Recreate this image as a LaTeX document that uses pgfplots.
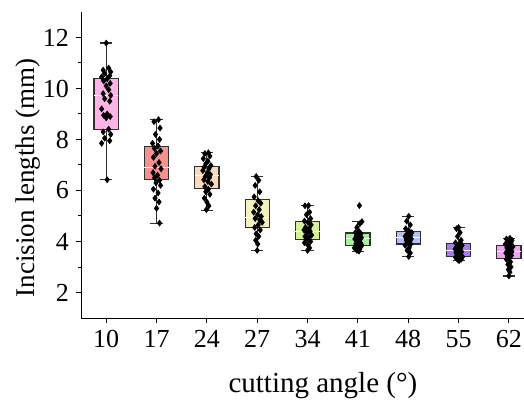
\documentclass[border=0pt]{standalone}
\usepackage{fontspec}
\setmainfont{Liberation Serif}
\usepackage{pgfplots}
\pgfplotsset{compat=1.18}
\usepgfplotslibrary{statistics}
\definecolor{c0}{HTML}{FFB3E6}
\definecolor{c1}{HTML}{F5918F}
\definecolor{c2}{HTML}{FAD9BC}
\definecolor{c3}{HTML}{F5F0C0}
\definecolor{c4}{HTML}{D4F09A}
\definecolor{c5}{HTML}{A6F0A0}
\definecolor{c6}{HTML}{B5C0F5}
\definecolor{c7}{HTML}{A77BF0}
\definecolor{c8}{HTML}{F0A6F5}
\definecolor{edge}{HTML}{303030}
\begin{document}
\begin{tikzpicture}
\begin{axis}[
  scale only axis, width=221.5pt, height=153pt,
  xmin=-0.5, xmax=8.3, ymin=1, ymax=13,
  axis x line*=bottom, axis y line*=left,
  axis line style={-, line width=0.5pt},
  xtick={0,...,8}, xticklabels={10,17,24,27,34,41,48,55,62},
  ytick={2,4,...,12}, minor y tick num=1,
  tick align=outside, major tick length=2.5pt, minor tick length=1.5pt,
  tick style={black, line width=0.5pt},
  every tick label/.append style={font=\fontsize{13}{15}\selectfont},
  /pgf/number format/assume math mode=true,
  xlabel={cutting angle (°)}, ylabel={Incision lengths (mm)},
  xlabel style={font=\fontsize{14.5}{16}\selectfont, at={(axis description cs:0.546,-0.222)}, anchor=center},
  ylabel style={font=\fontsize{13.5}{16}\selectfont, at={(axis description cs:-0.12,0.458)}, anchor=center, rotate=0},
  boxplot/draw direction=y,
  boxplot/box extend=0.48,
  boxplot/whisker extend=0.24,
  boxplot/every median/.style={draw=white, line width=0.5pt},
  clip=false,
]
\addplot[draw=edge, fill=c0, line width=0.6pt, boxplot prepared={lower whisker=6.42, lower quartile=8.40, median=9.73, upper quartile=10.40, upper whisker=11.78, draw position=0}] coordinates {};
\addplot[draw=edge, fill=c1, line width=0.6pt, boxplot prepared={lower whisker=4.72, lower quartile=6.42, median=6.91, upper quartile=7.73, upper whisker=8.78, draw position=1}] coordinates {};
\addplot[draw=edge, fill=c2, line width=0.6pt, boxplot prepared={lower whisker=5.22, lower quartile=6.08, median=6.58, upper quartile=6.94, upper whisker=7.48, draw position=2}] coordinates {};
\addplot[draw=edge, fill=c3, line width=0.6pt, boxplot prepared={lower whisker=3.65, lower quartile=4.55, median=4.93, upper quartile=5.65, upper whisker=6.55, draw position=3}] coordinates {};
\addplot[draw=edge, fill=c4, line width=0.6pt, boxplot prepared={lower whisker=3.64, lower quartile=4.08, median=4.40, upper quartile=4.78, upper whisker=5.41, draw position=4}] coordinates {};
\addplot[draw=edge, fill=c5, line width=0.6pt, boxplot prepared={lower whisker=3.62, lower quartile=3.83, median=4.10, upper quartile=4.33, upper whisker=4.78, draw position=5}] coordinates {};
\addplot[draw=edge, fill=c6, line width=0.6pt, boxplot prepared={lower whisker=3.41, lower quartile=3.90, median=4.15, upper quartile=4.38, upper whisker=4.99, draw position=6}] coordinates {};
\addplot[draw=edge, fill=c7, line width=0.6pt, boxplot prepared={lower whisker=3.25, lower quartile=3.41, median=3.65, upper quartile=3.91, upper whisker=4.55, draw position=7}] coordinates {};
\addplot[draw=edge, fill=c8, line width=0.6pt, boxplot prepared={lower whisker=2.65, lower quartile=3.33, median=3.60, upper quartile=3.84, upper whisker=4.13, draw position=8}] coordinates {};
\addplot[only marks, mark=diamond*, mark size=1.4pt, black] table[x expr=\thisrow{c}+\thisrow{o}, y=y] {
c o y
0 0.00 11.78
0 0.05 10.80
0 -0.06 10.72
0 0.09 10.65
0 -0.03 10.58
0 0.07 10.50
0 -0.09 10.45
0 0.02 10.38
0 -0.05 10.30
0 0.08 10.20
0 0.00 10.10
0 0.05 9.95
0 -0.06 9.80
0 0.09 9.73
0 -0.03 9.60
0 0.07 9.50
0 -0.09 9.20
0 0.02 9.00
0 -0.05 8.95
0 0.08 8.90
0 0.00 8.85
0 0.05 8.40
0 -0.06 8.30
0 0.09 8.20
0 -0.03 8.05
0 0.07 7.95
0 -0.09 7.85
0 0.02 6.42
1 0.04 8.78
1 -0.05 8.70
1 0.07 8.45
1 -0.02 8.20
1 0.06 8.00
1 -0.08 7.85
1 0.03 7.75
1 -0.04 7.65
1 0.08 7.55
1 0.00 7.45
1 -0.06 7.30
1 0.05 7.10
1 -0.03 6.95
1 0.09 6.85
1 -0.07 6.70
1 0.02 6.60
1 -0.04 6.50
1 0.06 6.40
1 -0.01 6.30
1 0.08 6.20
1 -0.06 6.05
1 0.03 5.90
1 -0.03 5.70
1 0.05 5.55
1 0.00 5.30
1 0.06 4.72
2 0.03 7.48
2 -0.04 7.45
2 0.06 7.35
2 -0.07 7.25
2 0.02 7.15
2 -0.02 7.05
2 0.08 6.98
2 -0.05 6.92
2 0.04 6.85
2 -0.08 6.78
2 0.01 6.70
2 0.07 6.62
2 -0.03 6.55
2 0.05 6.50
2 -0.06 6.42
2 0.02 6.35
2 0.09 6.25
2 -0.04 6.15
2 0.03 6.05
2 -0.02 5.95
2 0.06 5.85
2 -0.05 5.70
2 0.00 5.55
2 0.04 5.40
2 -0.01 5.25
3 -0.02 6.55
3 0.03 6.40
3 -0.04 6.20
3 0.05 5.95
3 -0.06 5.75
3 0.02 5.60
3 0.07 5.50
3 -0.03 5.40
3 0.04 5.25
3 -0.07 5.15
3 0.01 5.05
3 0.08 4.98
3 -0.04 4.90
3 0.05 4.85
3 0.10 4.75
3 0.02 4.65
3 -0.05 4.55
3 0.06 4.45
3 -0.02 4.30
3 0.03 4.20
3 -0.03 4.05
3 0.01 3.90
3 0.00 3.65
4 0.02 5.41
4 -0.05 5.40
4 0.04 5.15
4 -0.02 5.05
4 0.06 4.90
4 -0.06 4.80
4 0.01 4.75
4 0.07 4.65
4 -0.04 4.55
4 0.03 4.50
4 -0.07 4.45
4 0.05 4.40
4 -0.01 4.35
4 0.08 4.25
4 -0.05 4.20
4 0.02 4.15
4 -0.03 4.08
4 0.06 4.00
4 -0.06 3.95
4 0.01 3.85
4 0.04 3.75
4 0.00 3.65
5 0.03 5.41
5 0.08 4.78
5 0.04 4.70
5 -0.02 4.55
5 0.02 4.40
5 -0.05 4.35
5 0.06 4.30
5 -0.03 4.25
5 0.01 4.20
5 0.07 4.15
5 -0.06 4.10
5 0.03 4.05
5 -0.01 4.00
5 0.05 3.95
5 -0.04 3.90
5 0.08 3.85
5 0.00 3.80
5 -0.07 3.75
5 0.04 3.70
5 -0.02 3.65
5 0.02 3.62
6 0.01 4.99
6 -0.03 4.80
6 0.04 4.65
6 -0.05 4.50
6 0.02 4.40
6 0.07 4.35
6 -0.02 4.30
6 0.05 4.25
6 -0.06 4.20
6 0.00 4.15
6 0.06 4.10
6 -0.04 4.05
6 0.03 4.00
6 -0.01 3.95
6 0.05 3.90
6 -0.06 3.85
6 0.02 3.75
6 -0.02 3.65
6 0.04 3.55
6 0.01 3.41
7 0.00 4.55
7 -0.04 4.50
7 0.03 4.35
7 -0.02 4.20
7 0.05 4.05
7 -0.06 3.95
7 0.02 3.90
7 0.07 3.85
7 -0.03 3.80
7 0.04 3.75
7 -0.07 3.70
7 0.01 3.65
7 0.06 3.60
7 -0.05 3.55
7 0.03 3.50
7 -0.02 3.45
7 0.08 3.40
7 -0.06 3.38
7 0.02 3.35
7 -0.03 3.32
7 0.05 3.30
7 -0.01 3.28
7 0.01 3.25
8 0.02 4.13
8 -0.05 4.10
8 0.06 4.05
8 -0.02 4.00
8 0.04 3.95
8 -0.07 3.90
8 0.01 3.85
8 0.08 3.80
8 -0.04 3.75
8 0.03 3.70
8 -0.01 3.65
8 0.06 3.60
8 -0.06 3.55
8 0.02 3.50
8 0.05 3.45
8 -0.03 3.40
8 0.01 3.35
8 -0.05 3.30
8 0.03 3.20
8 -0.02 3.10
8 0.04 3.00
8 -0.01 2.90
8 0.02 2.80
8 0.00 2.65
};
\end{axis}
\pgfresetboundingbox
\path ([xshift=-40.5pt,yshift=-40.5pt]current axis.south west) rectangle ([yshift=6pt]current axis.north east);
\end{tikzpicture}
\end{document}
